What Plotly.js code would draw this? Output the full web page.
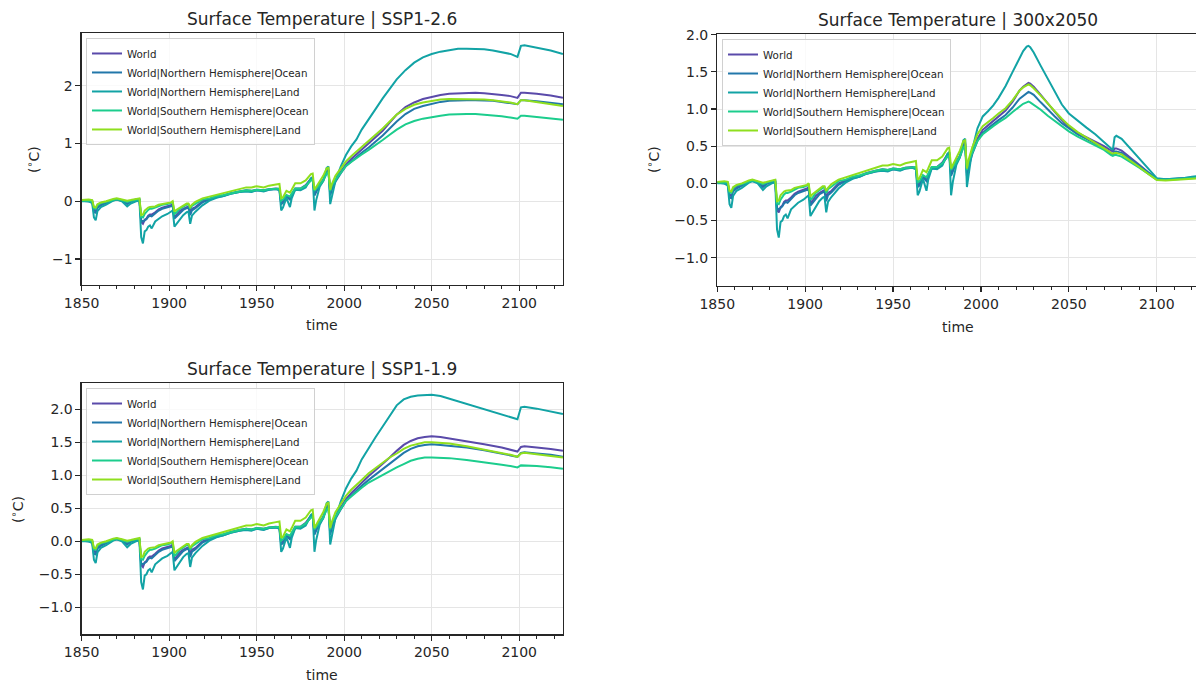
<!DOCTYPE html>
<html>
<head>
<meta charset="utf-8">
<script src="https://cdn.plot.ly/plotly-3.0.1.min.js"></script>
<style>
  html, body { margin: 0; padding: 0; background: #fff; }
  #chart { width: 1196px; height: 683px; }
</style>
</head>
<body>
<div id="chart"></div>
<script>
// historical part (to 1992), shared by the three scenarios
const histYears = [
  1850, 1854, 1856, 1857, 1858, 1859, 1861, 1864, 1868, 1870,
  1873, 1876, 1878, 1881, 1883, 1884, 1885, 1886, 1887, 1888,
  1889, 1890, 1892, 1894, 1896, 1899, 1901, 1902, 1903, 1904,
  1906, 1908, 1910, 1911, 1912, 1913, 1915, 1919, 1923, 1927,
  1931, 1935, 1940, 1944, 1947, 1950, 1954, 1957, 1961, 1963,
  1964, 1965, 1967, 1969, 1970, 1972, 1975, 1978, 1981, 1982,
  1983, 1984, 1986, 1988, 1990, 1991, 1992
];
const histWorld = [
  0.01, 0.01, 0.00, -0.15, -0.17, -0.09, -0.05, -0.02, 0.02, 0.04,
  0.02, -0.03, 0.00, 0.03, 0.03, -0.36, -0.39, -0.32, -0.30, -0.25,
  -0.23, -0.23, -0.19, -0.14, -0.11, -0.09, -0.07, -0.05, -0.27, -0.24,
  -0.17, -0.13, -0.10, -0.09, -0.18, -0.13, -0.10, 0.00, 0.04, 0.08,
  0.10, 0.14, 0.17, 0.19, 0.18, 0.20, 0.19, 0.21, 0.22, 0.21,
  -0.02, 0.00, 0.10, 0.06, 0.12, 0.22, 0.22, 0.28, 0.39, 0.40,
  0.14, 0.19, 0.30, 0.37, 0.52, 0.55, 0.14
];
const histNHOcean = [
  0.01, 0.00, -0.01, -0.19, -0.20, -0.11, -0.07, -0.03, 0.02, 0.03,
  0.01, -0.05, -0.01, 0.02, 0.02, -0.33, -0.35, -0.33, -0.31, -0.27,
  -0.25, -0.26, -0.21, -0.16, -0.13, -0.11, -0.09, -0.08, -0.30, -0.27,
  -0.20, -0.15, -0.12, -0.11, -0.24, -0.16, -0.12, -0.02, 0.03, 0.07,
  0.09, 0.13, 0.16, 0.18, 0.17, 0.19, 0.18, 0.20, 0.21, 0.20,
  -0.05, -0.03, 0.08, 0.03, 0.10, 0.20, 0.20, 0.26, 0.37, 0.38,
  0.10, 0.16, 0.28, 0.35, 0.50, 0.53, 0.10
];
const histNHLand = [
  0.00, 0.00, -0.03, -0.28, -0.33, -0.17, -0.10, -0.06, 0.01, 0.03,
  0.00, -0.09, -0.04, 0.00, 0.01, -0.62, -0.73, -0.52, -0.50, -0.44,
  -0.42, -0.47, -0.35, -0.30, -0.26, -0.22, -0.18, -0.16, -0.44, -0.40,
  -0.32, -0.24, -0.19, -0.18, -0.39, -0.25, -0.18, -0.07, 0.01, 0.06,
  0.09, 0.13, 0.16, 0.17, 0.16, 0.19, 0.17, 0.20, 0.21, 0.19,
  -0.16, -0.11, 0.06, -0.10, 0.05, 0.20, 0.19, 0.24, 0.40, 0.42,
  -0.16, 0.02, 0.25, 0.35, 0.58, 0.60, -0.05
];
const histSHOcean = [
  0.01, 0.01, 0.01, -0.12, -0.13, -0.07, -0.03, -0.01, 0.03, 0.04,
  0.02, -0.01, 0.01, 0.03, 0.04, -0.27, -0.28, -0.22, -0.18, -0.15,
  -0.13, -0.13, -0.11, -0.08, -0.06, -0.05, -0.03, -0.02, -0.22, -0.20,
  -0.13, -0.09, -0.06, -0.05, -0.13, -0.08, -0.04, 0.03, 0.05, 0.09,
  0.11, 0.14, 0.17, 0.19, 0.18, 0.20, 0.19, 0.21, 0.22, 0.22,
  0.01, 0.03, 0.11, 0.08, 0.13, 0.22, 0.22, 0.27, 0.36, 0.37,
  0.18, 0.22, 0.30, 0.36, 0.48, 0.50, 0.18
];
const histSHLand = [
  0.02, 0.03, 0.02, -0.10, -0.11, -0.05, -0.02, 0.00, 0.04, 0.05,
  0.03, 0.01, 0.02, 0.04, 0.05, -0.24, -0.23, -0.16, -0.13, -0.11,
  -0.10, -0.10, -0.09, -0.06, -0.05, -0.04, -0.02, 0.00, -0.18, -0.15,
  -0.11, -0.07, -0.04, -0.04, -0.10, -0.06, -0.01, 0.05, 0.08, 0.12,
  0.14, 0.17, 0.21, 0.24, 0.24, 0.26, 0.24, 0.27, 0.29, 0.30,
  0.05, 0.07, 0.18, 0.15, 0.20, 0.31, 0.31, 0.36, 0.47, 0.48,
  0.20, 0.25, 0.36, 0.44, 0.57, 0.58, 0.20
];

// SSP1-2.6
const ssp126Years = [
  1993, 1995, 1998, 2001, 2004, 2007, 2010,
  2014, 2018, 2022, 2026, 2030, 2035, 2040, 2045, 2050, 2055, 2060,
  2065, 2070, 2075, 2080, 2085, 2090, 2095, 2099, 2101, 2103,
  2110, 2118, 2125
];
const ssp126World = [
  0.24, 0.37, 0.51, 0.64, 0.73, 0.81, 0.89,
  0.99, 1.10, 1.22, 1.36, 1.50, 1.63, 1.71, 1.77, 1.81, 1.84, 1.86,
  1.87, 1.88, 1.88, 1.87, 1.86, 1.84, 1.82, 1.79, 1.88, 1.88,
  1.86, 1.83, 1.79
];
const ssp126NHOcean = [
  0.20, 0.34, 0.48, 0.61, 0.69, 0.77, 0.84,
  0.93, 1.03, 1.14, 1.26, 1.38, 1.51, 1.60, 1.65, 1.69, 1.72, 1.74,
  1.75, 1.75, 1.75, 1.75, 1.74, 1.72, 1.70, 1.68, 1.75, 1.75,
  1.73, 1.71, 1.68
];
const ssp126NHLand = [
  0.10, 0.35, 0.60, 0.80, 0.95, 1.07, 1.24,
  1.43, 1.60, 1.78, 1.95, 2.11, 2.27, 2.40, 2.49, 2.55, 2.59, 2.62,
  2.64, 2.64, 2.64, 2.63, 2.61, 2.58, 2.55, 2.50, 2.69, 2.70,
  2.66, 2.61, 2.55
];
const ssp126SHOcean = [
  0.28, 0.37, 0.50, 0.61, 0.68, 0.75, 0.81,
  0.89, 0.97, 1.06, 1.15, 1.24, 1.33, 1.39, 1.43, 1.46, 1.48, 1.50,
  1.51, 1.51, 1.51, 1.50, 1.49, 1.47, 1.45, 1.43, 1.48, 1.48,
  1.46, 1.44, 1.41
];
const ssp126SHLand = [
  0.30, 0.44, 0.57, 0.69, 0.78, 0.86, 0.93,
  1.03, 1.14, 1.26, 1.38, 1.50, 1.60, 1.67, 1.71, 1.74, 1.76, 1.77,
  1.77, 1.77, 1.77, 1.76, 1.75, 1.73, 1.71, 1.68, 1.75, 1.75,
  1.72, 1.69, 1.65
];

// 300x2050
const s300Years = [
  1993, 1995, 1998, 2001,
  2004, 2007, 2010, 2014, 2018, 2022, 2024, 2026, 2027, 2028,
  2030, 2034, 2038, 2042, 2046, 2050, 2055, 2060, 2065, 2070,
  2074, 2075, 2076, 2077, 2080, 2085, 2090, 2095, 2100, 2105,
  2110, 2115, 2120, 2125
];
const s300World = [
  0.26, 0.42, 0.60, 0.72,
  0.78, 0.84, 0.90, 0.98, 1.10, 1.25, 1.30, 1.34, 1.35, 1.34,
  1.30, 1.19, 1.07, 0.96, 0.85, 0.76, 0.68, 0.62, 0.56, 0.50,
  0.44, 0.43, 0.47, 0.47, 0.44, 0.35, 0.25, 0.15, 0.06, 0.05,
  0.055, 0.06, 0.075, 0.09
];
const s300NHOcean = [
  0.22, 0.39, 0.57, 0.68,
  0.74, 0.79, 0.85, 0.92, 1.02, 1.14, 1.18, 1.22, 1.23, 1.22,
  1.19, 1.09, 0.99, 0.90, 0.81, 0.74, 0.66, 0.60, 0.54, 0.47,
  0.40, 0.39, 0.43, 0.43, 0.41, 0.33, 0.24, 0.15, 0.06, 0.055,
  0.06, 0.065, 0.08, 0.09
];
const s300NHLand = [
  0.10, 0.45, 0.74, 0.90,
  0.97, 1.05, 1.15, 1.31, 1.50, 1.69, 1.78, 1.84, 1.85, 1.83,
  1.76, 1.58, 1.40, 1.22, 1.06, 0.94, 0.84, 0.75, 0.66, 0.56,
  0.47, 0.45, 0.62, 0.64, 0.60, 0.47, 0.33, 0.20, 0.07, 0.055,
  0.06, 0.07, 0.09, 0.10
];
const s300SHOcean = [
  0.30, 0.41, 0.57, 0.66,
  0.72, 0.77, 0.82, 0.88, 0.96, 1.04, 1.07, 1.09, 1.10, 1.09,
  1.06, 0.99, 0.91, 0.84, 0.77, 0.70, 0.63, 0.57, 0.51, 0.45,
  0.38, 0.37, 0.38, 0.38, 0.36, 0.29, 0.21, 0.13, 0.05, 0.045,
  0.05, 0.055, 0.065, 0.075
];
const s300SHLand = [
  0.32, 0.48, 0.66, 0.77,
  0.82, 0.88, 0.94, 1.01, 1.12, 1.25, 1.29, 1.32, 1.33, 1.32,
  1.28, 1.18, 1.07, 0.97, 0.87, 0.78, 0.69, 0.62, 0.55, 0.47,
  0.41, 0.40, 0.41, 0.41, 0.39, 0.31, 0.22, 0.13, 0.045, 0.04,
  0.045, 0.05, 0.06, 0.07
];

// SSP1-1.9
const ssp119Years = [
  1993, 1995, 1998, 2001, 2004, 2007, 2010,
  2014, 2018, 2022, 2026, 2030, 2034, 2038, 2042, 2046, 2050, 2055,
  2060, 2070, 2080, 2090, 2095, 2099, 2101, 2103, 2110, 2118,
  2125
];
const ssp119World = [
  0.24, 0.37, 0.51, 0.64, 0.73, 0.81, 0.89,
  0.99, 1.08, 1.17, 1.27, 1.37, 1.46, 1.52, 1.56, 1.58, 1.59, 1.58,
  1.56, 1.52, 1.47, 1.42, 1.39, 1.36, 1.43, 1.44, 1.42, 1.40,
  1.37
];
const ssp119NHOcean = [
  0.20, 0.34, 0.48, 0.61, 0.69, 0.77, 0.84,
  0.93, 1.01, 1.09, 1.17, 1.26, 1.34, 1.40, 1.44, 1.46, 1.47, 1.46,
  1.45, 1.42, 1.38, 1.33, 1.31, 1.28, 1.34, 1.35, 1.33, 1.31,
  1.28
];
const ssp119NHLand = [
  0.10, 0.35, 0.60, 0.80, 0.95, 1.07, 1.24,
  1.42, 1.58, 1.74, 1.90, 2.06, 2.15, 2.19, 2.21, 2.22, 2.22, 2.20,
  2.16, 2.08, 2.01, 1.93, 1.89, 1.85, 2.03, 2.04, 2.01, 1.97,
  1.93
];
const ssp119SHOcean = [
  0.28, 0.37, 0.50, 0.61, 0.68, 0.75, 0.81,
  0.89, 0.95, 1.01, 1.07, 1.12, 1.17, 1.22, 1.25, 1.27, 1.27, 1.27,
  1.26, 1.23, 1.20, 1.16, 1.14, 1.12, 1.15, 1.15, 1.14, 1.12,
  1.10
];
const ssp119SHLand = [
  0.30, 0.44, 0.57, 0.69, 0.78, 0.86, 0.93,
  1.03, 1.11, 1.19, 1.27, 1.33, 1.40, 1.45, 1.48, 1.50, 1.50, 1.49,
  1.48, 1.44, 1.39, 1.34, 1.31, 1.28, 1.33, 1.34, 1.32, 1.30,
  1.27
];

const seriesNames = [
  "World",
  "World|Northern Hemisphere|Ocean",
  "World|Northern Hemisphere|Land",
  "World|Southern Hemisphere|Ocean",
  "World|Southern Hemisphere|Land"
];
const scenarioNames = ["SSP1-2.6", "300x2050", "SSP1-1.9"];

const seriesColors = ["#5a4aaa", "#2277aa", "#12a3a5", "#1ccd8d", "#8fdf1e"];
const ink = "#262626";
const fontFamily = "DejaVu Sans, sans-serif";

const hist = [histWorld, histNHOcean, histNHLand, histSHOcean, histSHLand];
const panels = [
  { years: ssp126Years, values: [ssp126World, ssp126NHOcean, ssp126NHLand, ssp126SHOcean, ssp126SHLand], xa: "x", ya: "y", legend: "legend" },
  { years: s300Years, values: [s300World, s300NHOcean, s300NHLand, s300SHOcean, s300SHLand], xa: "x2", ya: "y2", legend: "legend2" },
  { years: ssp119Years, values: [ssp119World, ssp119NHOcean, ssp119NHLand, ssp119SHOcean, ssp119SHLand], xa: "x3", ya: "y3", legend: "legend3" }
];

var data = [];
panels.forEach(function (p) {
  seriesNames.forEach(function (name, i) {
    data.push({
      type: "scatter",
      mode: "lines",
      name: name,
      x: histYears.concat(p.years),
      y: hist[i].concat(p.values[i]),
      xaxis: p.xa,
      yaxis: p.ya,
      legend: p.legend,
      line: { color: seriesColors[i], width: 2 },
      hoverinfo: "skip"
    });
  });
});

function xAxis(domain, range, anchor) {
  return {
    domain: domain, range: range, anchor: anchor,
    showline: true, linecolor: ink, linewidth: 1.2, mirror: true,
    ticks: "outside", ticklen: 5, tickwidth: 1.2, tickcolor: ink,
    tick0: 1850, dtick: 50,
    minor: { dtick: 10, ticks: "outside", ticklen: 3, tickwidth: 1, tickcolor: ink, showgrid: false },
    showgrid: true, gridcolor: "#e5e5e5", gridwidth: 1, zeroline: false,
    tickfont: { size: 14, color: ink, family: fontFamily },
    fixedrange: true
  };
}
function yAxis(domain, range, anchor, dtick, fmt, mirror) {
  return {
    domain: domain, range: range, anchor: anchor,
    showline: true, linecolor: ink, linewidth: 1.2, mirror: mirror,
    ticks: "outside", ticklen: 5, tickwidth: 1.2, tickcolor: ink,
    tick0: 0, dtick: dtick, tickformat: fmt,
    showgrid: true, gridcolor: "#e5e5e5", gridwidth: 1, zeroline: false,
    tickfont: { size: 14, color: ink, family: fontFamily },
    fixedrange: true
  };
}
function legendAt(x, y) {
  return {
    x: x, y: y, xanchor: "left", yanchor: "top",
    bgcolor: "rgba(255,255,255,0.8)", bordercolor: "#d0d0d0", borderwidth: 1,
    font: { size: 10.3, color: ink, family: fontFamily },
    itemwidth: 30, tracegroupgap: 0
  };
}
function text(t, x, y, size, angle) {
  return {
    text: t, x: x, y: y, xref: "paper", yref: "paper",
    xanchor: "center", yanchor: "middle", showarrow: false,
    textangle: angle || 0,
    font: { size: size, color: ink, family: fontFamily }
  };
}

var annotations = [
  text("Surface Temperature | " + scenarioNames[0], 0.2696, 0.9722, 17),
  text("Surface Temperature | " + scenarioNames[1], 0.8010, 0.9707, 17),
  text("Surface Temperature | " + scenarioNames[2], 0.2696, 0.4597, 17),
  text("time", 0.2696, 0.5242, 14),
  text("time", 0.8010, 0.5212, 14),
  text("time", 0.2696, 0.0117, 14),
  text("(<sup>∘</sup>C)", 0.0276, 0.7657, 14, -90),
  text("(<sup>∘</sup>C)", 0.5460, 0.7657, 14, -90),
  text("(<sup>∘</sup>C)", 0.0142, 0.2548, 14, -90)
];

var layout = {
  width: 1196,
  height: 683,
  margin: { l: 0, r: 0, t: 0, b: 0 },
  paper_bgcolor: "#ffffff",
  plot_bgcolor: "#ffffff",
  font: { family: fontFamily, color: ink },
  showlegend: true,
  xaxis: xAxis([0.0683, 0.4707], [1850, 2125], "y"),
  yaxis: yAxis([0.5827, 0.9512], [-1.45, 2.907], "x", 1, "d", true),
  xaxis2: xAxis([0.5997, 1.0], [1850, 2122.3], "y2"),
  yaxis2: yAxis([0.5813, 0.9498], [-1.38, 2.005], "x2", 0.5, ".1f", false),
  xaxis3: xAxis([0.0683, 0.4707], [1850, 2125], "y3"),
  yaxis3: yAxis([0.0713, 0.4388], [-1.41, 2.394], "x3", 0.5, ".1f", true),
  legend: legendAt(0.0719, 0.9444),
  legend2: legendAt(0.6037, 0.9429),
  legend3: legendAt(0.0719, 0.4319),
  annotations: annotations
};

Plotly.newPlot("chart", data, layout, { displayModeBar: false, staticPlot: true });
</script>
</body>
</html>
